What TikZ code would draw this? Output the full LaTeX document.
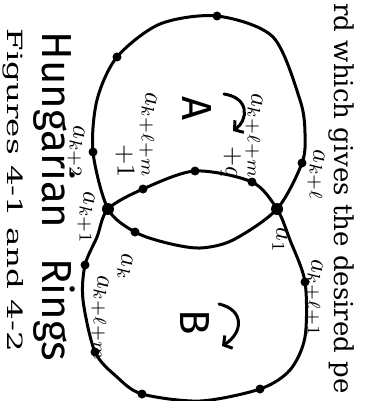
\documentclass[tikz,border=0pt]{standalone}
\usepackage{fontspec}
\newfontfamily\printfont{DejaVu Serif}
\newfontfamily\handfont{Fira Sans}
\usetikzlibrary{arrows.meta}
\newcommand{\ball}[1]{\scalebox{2.6}{$#1$}}

\begin{document}
\begin{tikzpicture}[x=1pt, y=-1pt, line width=3pt,
  lbl/.style={rotate=-90, inner sep=0pt},
  hand/.style={rotate=-90, inner sep=0pt, font=\handfont\fontsize{42}{42}\selectfont},
  spin/.style={-{Straight Barb[length=6pt, width=15pt]}, line cap=round}]
  \useasboundingbox (0,0) rectangle (369,401);

  % crossing points of the two rings
  \coordinate (x-l) at (108,209);
  \coordinate (x-r) at (277,209);
  % ring A
  \coordinate (a-top) at (217,16);
  \coordinate (a-nw) at (117,57);
  \coordinate (a-w) at (93,152);
  \coordinate (a-e) at (302,163);
  \coordinate (a-s) at (135,232);
  % ring B
  \coordinate (b-n1) at (143,189);
  \coordinate (b-n2) at (195,171);
  \coordinate (b-n3) at (252,182);
  \coordinate (b-e) at (305,282);
  \coordinate (b-se) at (260,389);
  \coordinate (b-sw) at (142,394);
  \coordinate (b-w2) at (95,352);
  \coordinate (b-w1) at (85,265);

  \draw plot[smooth cycle] coordinates {(a-top) (273,37) (300,100) (305,133)
    (a-e) (x-r) (233,240) (200,248) (167,243) (a-s) (x-l) (a-w) (97,100)
    (a-nw) (160,24)};
  \draw plot[smooth cycle] coordinates {(x-l) (b-n1) (b-n2) (b-n3) (x-r)
    (290,240) (b-e) (305,337) (290,370) (b-se) (200,401) (b-sw) (117,377)
    (b-w2) (83,300) (b-w1) (97,237)};

  \foreach \p in {a-top, a-nw, a-w, a-e, a-s, b-n1, b-n2, b-n3, b-e, b-se,
    b-sw, b-w2, b-w1}
    \fill (\p) circle (4.5pt);
  \fill (x-l) circle (6pt);
  \fill (x-r) circle (6pt);

  % ring names and turning arrows
  \node[hand] (ring-a) at (197,109) {A};
  \node[hand] (ring-b) at (195,322) {B};
  \coordinate (spin-a0) at (224,94);
  \coordinate (spin-a1) at (233,131);
  \draw[spin] (spin-a0) .. controls (250,98) and (248,120) .. (spin-a1);
  \coordinate (spin-b0) at (219,304);
  \coordinate (spin-b1) at (222,346);
  \draw[spin] (spin-b0) .. controls (245,310) and (243,333) .. (spin-b1);

  % labels of the balls
  \node[lbl] (l-kl) at (316,175) {\ball{a_{k+\ell}}};
  \node[lbl] (l-1) at (280,240) {\ball{a_1}};
  \node[lbl] (l-kl1) at (314,298) {\ball{a_{k+\ell+1}}};
  \node[lbl] (l-klmq) at (254,136) {\ball{a_{k+\ell+m}}};
  \node[lbl] (l-q) at (231,163) {\ball{+q}};
  \node[lbl] (l-klm1) at (148,135) {\ball{a_{k+\ell+m}}};
  \node[lbl] (l-1b) at (125,161) {\ball{+1}};
  \node[lbl] (l-k2) at (76,152) {\ball{a_{k+2}}};
  \node[lbl] (l-k1) at (86,218) {\ball{a_{k+1}}};
  \node[lbl] (l-k) at (125,267) {\ball{a_k}};
  \node[lbl] (l-klm) at (100,318) {\ball{a_{k+\ell+m}}};

  % handwritten title and printed text
  \node[hand, anchor=base west] (title-1) at (42,30) {Hungarian};
  \node[hand, anchor=base west] (title-2) at (42,257) {Rings};
  \node[rotate=-90, inner sep=0pt, anchor=base west,
    font=\printfont\fontsize{26}{26}\selectfont] (body) at (334,2)
    {rd which gives the desired pe};
  \node[rotate=-90, inner sep=0pt, anchor=base west,
    font=\printfont\fontsize{21}{21}\selectfont] (caption) at (8,27)
    {\scalebox{1.55}[1]{Figures 4-1 and 4-2}};
\end{tikzpicture}
\end{document}
